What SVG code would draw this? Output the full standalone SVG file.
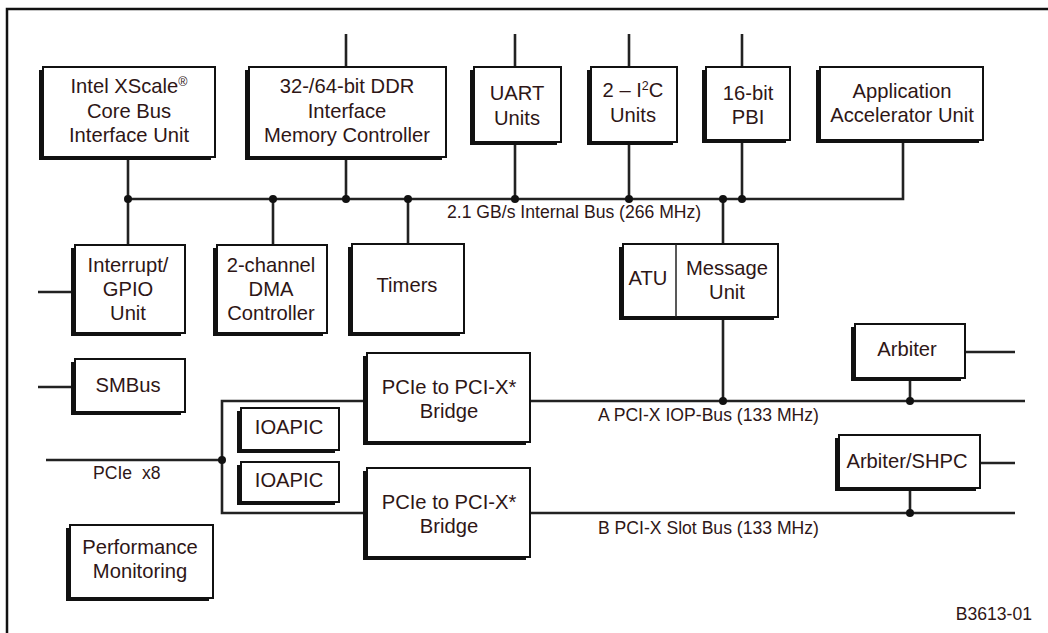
<svg xmlns="http://www.w3.org/2000/svg" width="1048" height="633" viewBox="0 0 1048 633">
<style>
.bg{fill:#ffffff}
.frame{fill:none;stroke:#111;stroke-width:2.5}
.sh{fill:#111;stroke:none}
.bx{fill:#fff;stroke:#111;stroke-width:2}
.ln{fill:none;stroke:#222;stroke-width:2.6}
.dot{fill:#111}
.t{font-family:"Liberation Sans",Arial,sans-serif;font-size:20.2px;fill:#2e1616;text-anchor:middle}
.l{font-family:"Liberation Sans",Arial,sans-serif;font-size:17.6px;fill:#2e1616}
</style>
<rect class="bg" x="0" y="0" width="1048" height="633"/>
<rect class="frame" x="7" y="9" width="1080" height="660"/>

<g id="connectors">
<path class="ln" d="M128 157V245"/>
<path class="ln" d="M346 34V67M346 157V199"/>
<path class="ln" d="M515 34V67M515 142V199"/>
<path class="ln" d="M629 34V67M629 142V199"/>
<path class="ln" d="M742 34V67M742 140V199"/>
<path class="ln" d="M903 140V199H128"/>
<path class="ln" d="M273 199V245"/>
<path class="ln" d="M408 199V244"/>
<path class="ln" d="M723 199V244M723 317V401"/>
<path class="ln" d="M38 292H71"/>
<path class="ln" d="M38 387H71"/>
<path class="ln" d="M965 352H1015M910 378V401"/>
<path class="ln" d="M530 401H1025"/>
<path class="ln" d="M363 401H222V513H363"/>
<path class="ln" d="M46 460H222"/>
<path class="ln" d="M530 513H1015"/>
<path class="ln" d="M980 463H1015M910 488V513"/>
<circle class="dot" cx="128" cy="199" r="4"/>
<circle class="dot" cx="273" cy="199" r="4"/>
<circle class="dot" cx="346" cy="199" r="4"/>
<circle class="dot" cx="408" cy="199" r="4"/>
<circle class="dot" cx="515" cy="199" r="4"/>
<circle class="dot" cx="629" cy="199" r="4"/>
<circle class="dot" cx="723" cy="199" r="4"/>
<circle class="dot" cx="742" cy="199" r="4"/>
<circle class="dot" cx="723" cy="401" r="4"/>
<circle class="dot" cx="910" cy="401" r="4"/>
<circle class="dot" cx="222" cy="460" r="4"/>
<circle class="dot" cx="910" cy="513" r="4"/>
<text class="l" x="447" y="218">2.1 GB/s Internal Bus (266 MHz)</text>
<text class="l" x="598" y="421">A PCI-X IOP-Bus (133 MHz)</text>
<text class="l" x="598" y="534">B PCI-X Slot Bus (133 MHz)</text>
<text class="l" x="93" y="479" style="white-space:pre">PCIe  x8</text>
</g>

<g id="intel">
<rect class="sh" x="39" y="70" width="172" height="90"/>
<rect class="bx" x="43" y="67" width="172" height="90"/>
<text class="t" x="129" y="93">Intel XScale<tspan font-size="12.5" dy="-7">®</tspan></text>
<text class="t" x="129" y="118">Core Bus</text>
<text class="t" x="129" y="142">Interface Unit</text>
</g>

<g id="ddr">
<rect class="sh" x="245" y="70" width="197" height="90"/>
<rect class="bx" x="249" y="67" width="197" height="90"/>
<text class="t" x="347" y="93">32-/64-bit DDR</text>
<text class="t" x="347" y="118">Interface</text>
<text class="t" x="347" y="142">Memory Controller</text>
</g>

<g id="uart">
<rect class="sh" x="470" y="70" width="87" height="75"/>
<rect class="bx" x="474" y="67" width="87" height="75"/>
<text class="t" x="517" y="100">UART</text>
<text class="t" x="517" y="125">Units</text>
</g>

<g id="i2c">
<rect class="sh" x="587" y="70" width="86" height="75"/>
<rect class="bx" x="591" y="67" width="86" height="75"/>
<text class="t" x="633" y="97">2 – I<tspan font-size="12.5" dy="-7">2</tspan><tspan dy="7">C</tspan></text>
<text class="t" x="633" y="122">Units</text>
</g>

<g id="pbi">
<rect class="sh" x="702" y="70" width="84" height="73"/>
<rect class="bx" x="706" y="67" width="84" height="73"/>
<text class="t" x="748" y="100">16-bit</text>
<text class="t" x="748" y="124">PBI</text>
</g>

<g id="aau">
<rect class="sh" x="816" y="70" width="163" height="73"/>
<rect class="bx" x="820" y="67" width="163" height="73"/>
<text class="t" x="902" y="98">Application</text>
<text class="t" x="902" y="122">Accelerator Unit</text>
</g>

<g id="interrupt">
<rect class="sh" x="71" y="248" width="110" height="88"/>
<rect class="bx" x="75" y="245" width="110" height="88"/>
<text class="t" x="128" y="272">Interrupt/</text>
<text class="t" x="128" y="296">GPIO</text>
<text class="t" x="128" y="320">Unit</text>
</g>

<g id="dma">
<rect class="sh" x="213" y="248" width="110" height="88"/>
<rect class="bx" x="217" y="245" width="110" height="88"/>
<text class="t" x="271" y="272">2-channel</text>
<text class="t" x="271" y="296">DMA</text>
<text class="t" x="271" y="320">Controller</text>
</g>

<g id="timers">
<rect class="sh" x="348" y="247" width="112" height="89"/>
<rect class="bx" x="352" y="244" width="112" height="89"/>
<text class="t" x="407" y="292">Timers</text>
</g>

<g id="atu">
<rect class="sh" x="619" y="247" width="155" height="73"/>
<rect class="bx" x="623" y="244" width="155" height="73"/>
<path class="ln" d="M676 244V317" style="stroke-width:1.5"/>
<text class="t" x="648" y="285">ATU</text>
<text class="t" x="727" y="275">Message</text>
<text class="t" x="727" y="299">Unit</text>
</g>

<g id="smbus">
<rect class="sh" x="71" y="362" width="110" height="53"/>
<rect class="bx" x="75" y="359" width="110" height="53"/>
<text class="t" x="128" y="392">SMBus</text>
</g>

<g id="arbiter">
<rect class="sh" x="851" y="327" width="110" height="54"/>
<rect class="bx" x="855" y="324" width="110" height="54"/>
<text class="t" x="907" y="356">Arbiter</text>
</g>

<g id="bridgeA">
<rect class="sh" x="363" y="356" width="163" height="89"/>
<rect class="bx" x="367" y="353" width="163" height="89"/>
<text class="t" x="449" y="394">PCIe to PCI-X*</text>
<text class="t" x="449" y="418">Bridge</text>
</g>

<g id="ioapic1">
<rect class="sh" x="237" y="411" width="98" height="42"/>
<rect class="bx" x="241" y="408" width="98" height="42"/>
<text class="t" x="289" y="434">IOAPIC</text>
</g>

<g id="ioapic2">
<rect class="sh" x="237" y="465" width="98" height="40"/>
<rect class="bx" x="241" y="462" width="98" height="40"/>
<text class="t" x="289" y="487">IOAPIC</text>
</g>

<g id="bridgeB">
<rect class="sh" x="363" y="471" width="163" height="89"/>
<rect class="bx" x="367" y="468" width="163" height="89"/>
<text class="t" x="449" y="509">PCIe to PCI-X*</text>
<text class="t" x="449" y="533">Bridge</text>
</g>

<g id="arbshpc">
<rect class="sh" x="835" y="438" width="141" height="53"/>
<rect class="bx" x="839" y="435" width="141" height="53"/>
<text class="t" x="907" y="468">Arbiter/SHPC</text>
</g>

<g id="perf">
<rect class="sh" x="66" y="528" width="143" height="73"/>
<rect class="bx" x="70" y="525" width="143" height="73"/>
<text class="t" x="140" y="554">Performance</text>
<text class="t" x="140" y="578">Monitoring</text>
</g>

<text class="l" x="1032" y="620" text-anchor="end">B3613-01</text>
</svg>
